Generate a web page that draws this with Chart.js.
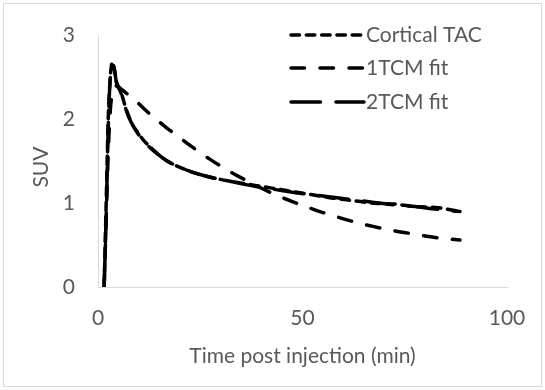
<!DOCTYPE html>
<html>
<head>
<meta charset="utf-8">
<script src="https://cdn.jsdelivr.net/npm/chart.js@4"></script>
<style>
  html, body { margin: 0; padding: 0; background: #fff; }
  #wrap { position: relative; width: 545px; height: 390px; }
  #frame { position: absolute; left: 3px; top: 3px; width: 537px; height: 382px; border: 1px solid #d9d9d9; pointer-events: none; }
</style>
</head>
<body>
<div id="wrap">
  <canvas id="chart" width="545" height="390"></canvas>
  <div id="frame"></div>
</div>
<script>
// time points (min) and SUV values
const timeMin = [1.5, 2, 2.5, 3, 3.5, 4, 4.5, 5.5, 6.5, 7.5, 8.5, 9.5, 11, 13, 15, 17, 19, 22.5, 27.5, 32.5, 37.5, 42.5, 47.5, 52.5, 57.5, 62.5, 67.5, 72.5, 77.5, 82.5, 88.5];
const corticalTAC = [0, 1.0, 2.0, 2.5, 2.68, 2.6, 2.45, 2.35, 2.18, 2.04, 1.93, 1.86, 1.76, 1.66, 1.57, 1.5, 1.45, 1.38, 1.31, 1.26, 1.22, 1.18, 1.14, 1.1, 1.06, 1.03, 1.0, 0.99, 0.96, 0.95, 0.9];
const fit1TCM = [0, 0.8, 1.6, 2.1, 2.32, 2.39, 2.4, 2.37, 2.33, 2.29, 2.25, 2.21, 2.14, 2.05, 1.97, 1.89, 1.82, 1.69, 1.52, 1.37, 1.24, 1.12, 1.02, 0.93, 0.85, 0.78, 0.72, 0.67, 0.63, 0.59, 0.56];
const fit2TCM = [0, 0.85, 1.9, 2.5, 2.66, 2.6, 2.44, 2.33, 2.17, 2.03, 1.93, 1.85, 1.75, 1.65, 1.57, 1.5, 1.45, 1.38, 1.31, 1.26, 1.21, 1.17, 1.13, 1.1, 1.07, 1.04, 1.01, 0.98, 0.96, 0.93, 0.9];
const seriesNames = ["Cortical TAC", "1TCM fit", "2TCM fit"];
const xTicks = [0, 50, 100];
const yTicks = [0, 1, 2, 3];

const textGray = "#595959";
const fontFamily = "Lato, 'Open Sans', sans-serif";
const fontSize = 21;

const toPoints = (ys) => ys.map((y, i) => ({ x: timeMin[i], y: y }));

const dashes = [[8.5, 6.8], [13.5, 15.5], [29.5, 15.5]];

const datasets = [corticalTAC, fit1TCM, fit2TCM].map((vals, i) => ({
  label: seriesNames[i],
  data: toPoints(vals),
  borderColor: "#000",
  borderWidth: 3.5,
  borderDash: dashes[i],
  borderCapStyle: "round",
  pointRadius: 0,
  showLine: true,
  cubicInterpolationMode: "monotone",
  fill: false,
}));

// legend + y title drawn by hand so they sit where Excel put them
const overlay = {
  id: "overlay",
  afterDraw(chart) {
    const ctx = chart.ctx;
    ctx.save();
    const rows = [35, 68, 102];
    chart.data.datasets.forEach((ds, i) => {
      const y = rows[i];
      ctx.strokeStyle = ds.borderColor;
      ctx.lineWidth = ds.borderWidth;
      ctx.lineCap = "round";
      ctx.setLineDash(ds.borderDash);
      ctx.beginPath();
      ctx.moveTo(291, y);
      ctx.lineTo(364, y);
      ctx.stroke();
      ctx.setLineDash([]);
      ctx.fillStyle = textGray;
      ctx.font = fontSize + "px " + fontFamily;
      ctx.textBaseline = "middle";
      ctx.textAlign = "left";
      ctx.fillText(ds.label, 366, y);
    });
    // y axis title
    ctx.translate(41, 167);
    ctx.rotate(-Math.PI / 2);
    ctx.textAlign = "center";
    ctx.textBaseline = "middle";
    ctx.fillText("SUV", 0, 0);
    ctx.restore();
  }
};

new Chart(document.getElementById("chart"), {
  type: "scatter",
  data: { datasets: datasets },
  options: {
    responsive: false,
    animation: false,
    layout: { padding: { left: 0, top: 25, right: 38, bottom: 0 } },
    plugins: { legend: { display: false }, tooltip: { enabled: false } },
    scales: {
      x: {
        type: "linear",
        min: 0, max: 100,
        afterBuildTicks: (s) => { s.ticks = xTicks.map(v => ({ value: v })); },
        afterFit: (s) => { s.height = 103; },
        grid: { display: false, drawTicks: false },
        border: { display: true, color: "#d9d9d9", width: 1 },
        ticks: { color: textGray, font: { family: fontFamily, size: fontSize }, padding: 19, maxRotation: 0 },
        title: { display: true, text: "Time post injection (min)", color: textGray, font: { family: fontFamily, size: fontSize }, padding: { top: 0, bottom: 21 } }
      },
      y: {
        type: "linear",
        min: 0, max: 3,
        afterBuildTicks: (s) => { s.ticks = yTicks.map(v => ({ value: v })); },
        afterFit: (s) => { s.width = 98; },
        grid: { display: false, drawTicks: false },
        border: { display: true, color: "#d9d9d9", width: 1 },
        ticks: { color: textGray, font: { family: fontFamily, size: fontSize }, padding: 23 }
      }
    }
  },
  plugins: [overlay]
});
</script>
</body>
</html>
